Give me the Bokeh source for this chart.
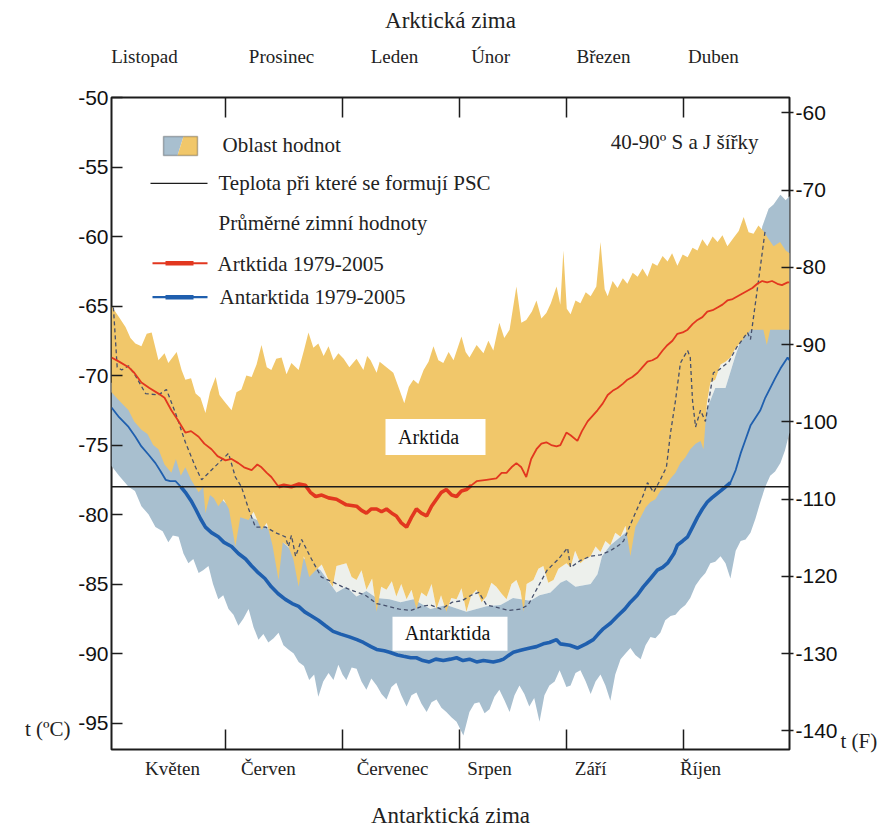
import math
from bokeh.plotting import figure
from bokeh.models import (Range1d, LinearAxis, FixedTicker, Span, Label,
                          BoxAnnotation, PolyAnnotation)
from bokeh.embed import file_html
from bokeh.resources import INLINE

# ---------------- data (day of winter season, temperature in °C) ----------------
PSC = -78.0
MONTH_BOUNDS = [30, 61, 92, 120, 151]
TOP_MONTHS = ["Listopad", "Prosinec", "Leden", "Únor", "Březen", "Duben"]
TOP_LABEL_DAYS = [8.7, 44.9, 74.7, 100.1, 129.9, 158.9]
BOTTOM_MONTHS = ["Květen", "Červen", "Červenec", "Srpen", "Září", "Říjen"]
BOTTOM_LABEL_DAYS = [16.1, 41.4, 74.2, 99.8, 126.5, 155.5]
C_TICKS = [-95, -90, -85, -80, -75, -70, -65, -60, -55, -50]
F_TICKS = [-140, -130, -120, -110, -100, -90, -80, -70, -60]
C_UNIT_AT = -95.4     # where the "t (ºC)" caption sits on the °C scale
F_UNIT_AT = -141.3    # where the "t (F)" caption sits on the °F scale

ARC_MAX = [(0,-65.0),(2,-65.8),(3.7,-66.5),(5,-67.3),(6.3,-67.7),(7.9,-67.9),(9.3,-67.0),(10.6,-66.9),(12.4,-68.9),(14,-68.4),(15,-69.1),(17.2,-68.3),(18.5,-69.6),(19.5,-70.3),(21,-70.2),(22.2,-71.3),(23.5,-71.6),(24.8,-72.7),(26,-71.2),(27.5,-70.1),(28.5,-71.4),(29.6,-71.8),(31.7,-72.5),(33,-71.2),(34.3,-71.0),(35.6,-70.0),(37,-70.1),(38.3,-69.2),(39.6,-67.8),(41,-69.4),(42.2,-69.6),(43.5,-68.8),(44.9,-68.7),(46.2,-69.9),(47.5,-69.1),(49.4,-69.6),(50.8,-68.2),(52,-66.9),(53.3,-68.0),(54.6,-67.7),(56,-68.6),(57.3,-67.9),(58.6,-68.9),(59.9,-68.4),(61.3,-68.8),(62.8,-69.4),(64.7,-68.8),(66.5,-69.6),(67.5,-68.6),(68.4,-68.9),(70,-69.8),(70.8,-69.0),(72.6,-69.4),(74.4,-69.8),(76,-71.0),(77.3,-72.0),(78.5,-70.8),(79.7,-70.3),(81,-70.6),(82.4,-69.6),(83.7,-69.0),(85,-67.9),(86.3,-68.9),(87.6,-69.1),(89,-68.3),(90.3,-68.9),(92.4,-67.2),(93.5,-68.3),(94.5,-68.7),(96.4,-67.8),(98.2,-68.4),(99.5,-67.5),(100.8,-68.2),(102.4,-66.2),(103.7,-67.3),(105.1,-66.7),(106.9,-63.6),(108.2,-66.2),(109.5,-66.0),(111,-65.4),(112.2,-64.6),(113.5,-65.9),(114.8,-65.5),(116,-64.8),(117.5,-63.6),(118.5,-64.9),(119.3,-61.0),(120.2,-65.2),(121.2,-65.6),(122.5,-64.6),(123.8,-64.8),(125.2,-64.0),(126.5,-64.3),(128,-63.6),(129.1,-60.4),(130.2,-63.8),(131,-64.3),(132.3,-63.2),(133.6,-63.7),(135,-63.0),(136.2,-63.4),(137.6,-62.6),(138.9,-62.9),(140.2,-62.3),(141.5,-62.9),(142.8,-61.9),(144.1,-62.1),(145.5,-61.4),(146.8,-61.8),(148,-61.2),(149.4,-62.1),(150.8,-61.3),(152.1,-61.5),(153.4,-60.8),(154.7,-61.0),(156,-60.2),(157.3,-60.7),(158.7,-60.0),(160,-60.4),(161.3,-59.9),(162.6,-60.7),(164.2,-60.1),(165.6,-59.6),(166.9,-58.6),(168.2,-59.7),(169.5,-59.8),(170.8,-59.2),(172.1,-59.6),(173.5,-60.2),(174.8,-60.7),(176.5,-60.4),(178,-61.0),(179,-61.2)]

ARC_MIN = [(0,-71.2),(2,-71.8),(4.5,-72.5),(6,-73.3),(7.9,-73.9),(9.5,-74.2),(11,-75.0),(12.4,-75.3),(14,-76.4),(15.8,-77.0),(17,-76.0),(18.3,-77.2),(19.5,-76.6),(21,-77.5),(23,-78.4),(24.2,-78.0),(24.8,-79.9),(26,-78.6),(27,-78.8),(28.2,-79.4),(29.6,-78.9),(31,-79.6),(32.7,-82.3),(34,-80.2),(36.2,-80.4),(37.5,-79.8),(39.6,-81.1),(41,-80.6),(42.5,-82.2),(44.1,-84.7),(45.2,-82.0),(46.7,-82.3),(48,-83.2),(49.4,-85.2),(50.8,-83.0),(52.2,-84.5),(53.9,-84.0),(55.5,-83.6),(57.3,-84.7),(58.4,-85.2),(59.4,-83.7),(62,-83.5),(63.4,-84.5),(64.7,-84.7),(66,-84.0),(67.3,-85.4),(68.8,-84.6),(70,-87.0),(71.2,-85.2),(72.6,-85.4),(74,-84.8),(75.2,-85.9),(76.5,-85.0),(77.9,-86.1),(79.2,-85.4),(80.5,-86.8),(81.8,-85.6),(83.2,-85.9),(84.5,-85.0),(85.8,-86.8),(87,-85.8),(88.4,-87.0),(89.7,-86.0),(91.1,-86.1),(92.4,-85.3),(93.7,-87.0),(95,-85.8),(96.4,-85.4),(97.7,-86.3),(99,-85.9),(100.3,-84.9),(101.6,-85.2),(103,-85.7),(104.3,-86.1),(105.6,-85.0),(106.9,-84.7),(108,-85.5),(108.8,-87.0),(109.6,-85.0),(111.4,-84.7),(112.7,-83.9),(114,-83.7),(115.3,-84.9),(116.7,-84.7),(118,-83.9),(120.1,-83.5),(121.2,-83.8),(122.4,-82.6),(123.8,-83.5),(125,-83.2),(126.5,-83.0),(127.8,-82.3),(129.1,-82.7),(130.4,-81.9),(131.7,-82.2),(133,-81.3),(134.4,-81.6),(135.7,-80.8),(137,-83.0),(138.3,-80.9),(139.7,-80.2),(141,-79.5),(142.3,-79.1),(143.6,-78.9),(144.9,-78.3),(146.2,-78.0),(147.6,-77.4),(148.9,-77.0),(150.2,-76.3),(151.5,-75.9),(152.8,-75.3),(154.2,-74.9),(155.5,-74.7),(156.3,-75.3),(157.2,-72.0),(158.1,-70.5),(159.4,-70.3),(160.8,-69.2),(162.1,-69.0),(163.4,-68.7),(164.8,-68.0),(166.1,-67.6),(167.4,-67.2),(168.7,-66.7),(170,-66.7),(172.1,-66.7),(173,-67.8),(173.9,-66.7),(176.6,-66.7),(179,-66.7)]

ANT_MAX = [(0,-70.5),(7.7,-73.0),(15.6,-75.5),(23.5,-77.5),(31.4,-79.5),(39.3,-80.5),(47.3,-82.5),(55.2,-84.0),(59.4,-85.6),(62,-85.2),(64.7,-85.9),(67.3,-85.5),(70,-86.0),(73.4,-86.1),(76.3,-86.3),(79.7,-86.1),(84.2,-86.8),(88.4,-86.5),(93.7,-87.0),(99,-86.6),(102.7,-86.5),(106,-86.0),(110.6,-86.2),(113,-85.8),(115.9,-85.6),(118.5,-84.9),(120.1,-84.7),(122.5,-85.2),(126.5,-85.0),(128.3,-84.3),(129.5,-83.0),(131.7,-82.2),(135.7,-81.3),(139.7,-79.9),(143.6,-78.0),(147.6,-76.6),(150.2,-75.8),(154.2,-74.1),(156.8,-72.7),(159.4,-70.9),(162.1,-70.9),(164.8,-68.5),(167.4,-66.5),(170,-63.5),(171.8,-59.3),(173.5,-58.0),(174.8,-57.7),(176.6,-57.0),(178,-57.4),(179,-57.1)]

ANT_MIN = [(0,-76.5),(2,-77.2),(4.5,-78.0),(6.2,-78.3),(7.9,-79.4),(9.8,-80.0),(11.6,-80.9),(13.5,-81.2),(15,-82.0),(16.2,-81.5),(17.7,-81.6),(19,-82.8),(20.3,-83.5),(21.6,-83.2),(23,-84.2),(24.2,-84.0),(25.6,-83.7),(26.8,-85.0),(28.2,-86.1),(29.5,-85.8),(30.9,-86.8),(32.2,-87.2),(33.5,-88.0),(34.8,-87.5),(36.2,-86.8),(37.5,-88.1),(38.8,-89.0),(40.1,-88.6),(41.4,-89.2),(42.8,-88.9),(44.1,-88.5),(45.4,-89.4),(46.7,-89.7),(48.1,-90.0),(49.4,-90.6),(50.8,-90.9),(52.2,-91.9),(53.5,-91.5),(54.6,-93.1),(55.9,-92.0),(57.3,-91.4),(58.6,-91.9),(59.9,-90.8),(61,-91.5),(62,-91.9),(63.4,-91.0),(64.7,-91.1),(66,-92.0),(67.3,-92.6),(68.6,-91.8),(70,-92.3),(71.3,-92.9),(72.6,-93.3),(73.9,-92.4),(75.2,-92.1),(76.5,-93.0),(77.9,-93.8),(79.2,-93.0),(80.5,-92.8),(81.8,-93.6),(83.2,-94.2),(84.5,-93.5),(85.8,-93.3),(87.1,-93.9),(88.4,-94.2),(89.8,-94.6),(91.1,-94.9),(92.9,-95.9),(94.5,-94.2),(95.8,-93.6),(97.1,-93.5),(98.5,-94.3),(99.8,-94.0),(101.1,-93.1),(102.4,-92.6),(103.8,-93.4),(105.1,-94.2),(106.4,-93.0),(107.7,-92.3),(109,-92.9),(110.3,-93.8),(111.6,-93.2),(113,-94.9),(114.3,-93.0),(115.6,-92.3),(117,-92.0),(118.3,-91.2),(119.2,-91.8),(120.1,-92.4),(121.2,-92.3),(122.5,-91.4),(123.8,-91.2),(125.2,-92.0),(126.5,-92.9),(127.8,-92.0),(129.1,-91.5),(130.4,-92.3),(131.7,-93.4),(133,-91.5),(134.4,-90.4),(135.7,-90.0),(137,-89.6),(138.3,-90.1),(139.7,-90.4),(141,-89.4),(142.3,-88.8),(143.6,-88.9),(144.9,-88.5),(146.2,-87.6),(147.6,-87.3),(148.9,-87.2),(150.2,-86.8),(151.5,-86.5),(152.8,-86.0),(154.2,-85.1),(155.5,-84.6),(156.8,-84.2),(158.1,-83.5),(159.4,-83.4),(160.8,-83.0),(162.1,-83.5),(163.4,-84.6),(164.8,-82.6),(166.1,-81.9),(167.4,-81.8),(168.7,-81.3),(170,-80.3),(171.3,-79.1),(172.6,-78.0),(173.9,-77.2),(175.2,-76.9),(176.6,-76.3),(177.8,-75.4),(179,-74.1)]

ARC_MEAN = [(0,-68.7),(2,-69.0),(4.5,-69.4),(6,-69.8),(7.9,-70.5),(10,-70.9),(12.4,-71.3),(14,-71.6),(15.8,-72.5),(17.5,-73.2),(19.5,-74.1),(21,-74.0),(23,-74.4),(24.5,-74.9),(26.4,-75.3),(28,-75.8),(30.1,-76.1),(31.7,-76.0),(33.5,-76.3),(35,-76.6),(37,-76.8),(38.5,-76.4),(39.6,-76.6),(41,-77.0),(42.2,-77.3),(44.1,-78.0),(45.5,-77.9),(47.5,-78.0),(49.5,-77.8),(51.2,-77.9),(52.5,-78.4),(53.9,-78.7),(55.5,-78.6),(57.3,-78.8),(59.4,-78.9),(62,-79.3),(64.7,-79.4),(66,-79.7),(67.3,-79.9),(68.6,-79.6),(70,-79.6),(71.3,-79.8),(72.6,-79.6),(74,-79.9),(75.2,-80.1),(76.5,-80.6),(77.9,-80.9),(79.2,-80.2),(80.5,-79.6),(81.8,-79.9),(83.2,-80.1),(84.5,-79.4),(85.8,-78.9),(87.1,-78.4),(88.4,-78.2),(89.8,-78.6),(91.1,-78.7),(92.4,-78.3),(93.7,-78.2),(95,-77.9),(96.4,-77.6),(99,-77.5),(101.6,-77.4),(103,-77.0),(104.3,-77.0),(105.6,-76.6),(106.9,-76.3),(108.2,-76.6),(109.5,-77.3),(110.8,-76.0),(112.2,-75.3),(113.5,-74.9),(114.8,-74.8),(116.1,-75.0),(117.5,-75.1),(118.5,-75.0),(120.1,-74.1),(121.2,-74.3),(123,-74.7),(124.2,-74.0),(125.7,-73.3),(127,-72.9),(128.3,-72.5),(129.7,-72.0),(131,-71.4),(132.3,-71.1),(133.6,-70.9),(135,-70.6),(136.2,-70.3),(137.5,-70.1),(138.9,-69.8),(140.2,-69.4),(141.5,-69.0),(142.8,-68.9),(144.1,-68.7),(145.5,-68.2),(146.8,-67.8),(148.1,-67.5),(149.4,-67.0),(150.8,-66.9),(152.1,-66.7),(153.4,-66.3),(154.7,-66.0),(156,-65.8),(157.3,-65.4),(158.7,-65.3),(160,-65.1),(161.3,-64.9),(162.6,-64.6),(164,-64.5),(165.3,-64.3),(166.6,-64.1),(167.9,-63.9),(169.2,-63.7),(170.5,-63.4),(171.8,-63.2),(173.1,-63.3),(174.4,-63.2),(175.8,-63.4),(177,-63.5),(178.5,-63.3),(179,-63.3)]

ANT_MEAN = [(0,-72.3),(2,-73.0),(4.5,-73.7),(6.3,-74.4),(7.9,-75.1),(9.8,-75.7),(11.6,-76.3),(13,-76.9),(14.3,-77.5),(15.5,-77.6),(16.9,-77.6),(18.3,-78.0),(19.5,-78.4),(21,-79.0),(22.2,-79.6),(23.5,-80.3),(24.8,-80.9),(26.4,-81.3),(28.2,-81.6),(29.7,-82.0),(31.7,-82.3),(33.5,-82.8),(35.4,-83.2),(37,-83.7),(38.8,-84.2),(40.5,-84.6),(42.2,-85.2),(44,-85.7),(45.9,-86.1),(47.7,-86.4),(49.4,-86.6),(51,-87.0),(52.8,-87.3),(54.6,-87.6),(56.5,-88.0),(58.5,-88.4),(60.5,-88.6),(62.8,-88.8),(64.8,-89.0),(66.5,-89.2),(68.5,-89.5),(70,-89.7),(72,-89.8),(73.4,-89.9),(75.5,-90.1),(77.1,-90.2),(79,-90.3),(80.5,-90.3),(82.2,-90.5),(83.9,-90.6),(85.6,-90.4),(87.6,-90.5),(89.5,-90.4),(91.1,-90.3),(92.8,-90.5),(94.5,-90.4),(96.4,-90.6),(98.2,-90.5),(100.8,-90.6),(102.5,-90.5),(103.5,-90.4),(105,-90.1),(106.1,-89.9),(107.5,-89.8),(108.8,-89.7),(110.5,-89.6),(112.2,-89.5),(114,-89.3),(115.6,-89.2),(117.5,-89.0),(118.5,-89.3),(121,-89.4),(123,-89.6),(125.3,-89.3),(127.2,-89.0),(128.5,-88.6),(129.9,-88.2),(131.8,-87.8),(133.6,-87.3),(135.5,-86.8),(137,-86.3),(138.8,-85.8),(140.4,-85.2),(142.3,-84.6),(144.1,-84.0),(145.5,-83.8),(146.8,-83.5),(148.5,-82.8),(149.4,-82.2),(150.8,-81.9),(152.1,-81.6),(153.4,-80.9),(154.7,-80.2),(156,-79.6),(157.3,-79.1),(158.5,-78.8),(160.8,-78.3),(162.1,-78.0),(163.4,-77.7),(164.8,-76.8),(166.1,-75.6),(167.4,-74.6),(168.7,-73.6),(171.3,-72.5),(172.6,-71.6),(173.9,-70.9),(175.2,-70.2),(176.6,-69.5),(178.5,-68.7),(179,-68.9)]

DASHED = [(0.5,-65.1),(1.5,-69.4),(2.7,-69.6),(4.5,-69.3),(6.3,-70.0),(9,-71.3),(12.4,-71.4),(14.5,-71.0),(16.9,-72.7),(19.5,-74.8),(22.2,-76.6),(23.8,-77.5),(26.4,-76.8),(29,-76.1),(30.9,-75.6),(32.7,-77.3),(34.3,-78.0),(36.2,-79.6),(38,-80.9),(40.7,-80.9),(43.3,-81.3),(45.9,-81.6),(46.7,-82.3),(47.5,-81.5),(48.6,-83.0),(50.2,-81.8),(52.8,-83.2),(55.4,-84.5),(58,-84.8),(61,-85.2),(64,-85.5),(67,-85.8),(70,-86.4),(73,-86.6),(76,-86.8),(79,-86.9),(82,-86.6),(84.2,-86.5),(87,-86.8),(90,-86.3),(92.5,-86.2),(95,-85.8),(97,-85.6),(99,-86.5),(102,-86.7),(105,-86.9),(108,-86.8),(110,-86.5),(112,-85.5),(115,-84.0),(118,-83.2),(120.4,-82.4),(121.2,-83.8),(123.8,-83.3),(126.5,-83.0),(129.1,-82.9),(131.7,-82.6),(134,-82.2),(135.2,-81.9),(137.8,-80.2),(140.4,-78.6),(141.5,-77.7),(143.1,-78.4),(144.9,-77.5),(146.5,-76.6),(147.6,-74.1),(148.9,-71.8),(150.2,-69.1),(151.0,-68.7),(152.1,-68.2),(152.8,-68.7),(153.4,-71.8),(154.2,-73.7),(155.5,-72.5),(156.8,-73.3),(158.9,-69.8),(160.3,-69.6),(163,-69.0),(165,-68.0),(167.9,-66.9),(168.7,-67.4),(169.5,-65.8),(171.3,-62.2),(172.6,-59.5)]

# ---------------- figure ----------------
X_START, X_END = 0, 179
Y_TOP, Y_BOT = -50.0, -96.9
FRAME_W, FRAME_H = 678, 653
FRAME_LEFT, FRAME_TOP = 111, 97   # pixels of the frame's top-left corner


def dx(px):
    return X_START + (px - FRAME_LEFT) * (X_END - X_START) / FRAME_W


def ty(py):
    return Y_TOP - (py - FRAME_TOP) * (Y_TOP - Y_BOT) / FRAME_H


YELLOW = "#f1c76a"
BLUE_BAND = "#a8bfcf"
PALE = "#edf0ec"
RED = "#e2371f"
BLUE = "#1f5fae"
INK = "#1c1c1c"
SERIF = "Liberation Serif"

p = figure(width=887, height=830,
           x_range=Range1d(X_START, X_END), y_range=Range1d(Y_BOT, Y_TOP),
           output_backend="svg", toolbar_location=None,
           x_axis_location=None, y_axis_location=None,
           min_border_left=FRAME_LEFT, min_border_right=887 - FRAME_LEFT - FRAME_W,
           min_border_top=FRAME_TOP, min_border_bottom=830 - FRAME_TOP - FRAME_H)
p.xgrid.visible = False
p.ygrid.visible = False
p.background_fill_color = "white"
p.border_fill_color = "white"
p.outline_line_color = INK
p.outline_line_width = 2

p.extra_y_ranges = {"F": Range1d(Y_BOT * 1.8 + 32, Y_TOP * 1.8 + 32)}

num_style = dict(major_label_text_font="Liberation Sans", major_label_text_font_size="21px",
                 major_label_text_color="#111", axis_line_color=None,
                 major_tick_line_color=INK, major_tick_line_width=1.5,
                 minor_tick_line_color=None)
left = LinearAxis(ticker=FixedTicker(ticks=C_TICKS),
                  major_label_overrides={t: str(t) for t in C_TICKS},
                  major_tick_in=11, major_tick_out=0, major_label_standoff=3, **num_style)
p.add_layout(left, "left")
right = LinearAxis(y_range_name="F", ticker=FixedTicker(ticks=F_TICKS),
                   major_label_overrides={t: str(t) for t in F_TICKS},
                   major_tick_in=8, major_tick_out=4, major_label_standoff=2, **num_style)
p.add_layout(right, "right")

unit_style = dict(major_label_text_font=SERIF, major_label_text_font_size="21px",
                  major_label_text_color="#222", axis_line_color=None,
                  major_tick_line_color=None, minor_tick_line_color=None,
                  major_tick_in=0, major_tick_out=0)
left_unit = LinearAxis(ticker=FixedTicker(ticks=[C_UNIT_AT]),
                       major_label_overrides={C_UNIT_AT: "t (ºC)"},
                       major_label_standoff=5, **unit_style)
p.add_layout(left_unit, "left")
right_unit = LinearAxis(y_range_name="F", ticker=FixedTicker(ticks=[F_UNIT_AT]),
                        major_label_overrides={F_UNIT_AT: "t (F)"},
                        major_label_standoff=0, **unit_style)
p.add_layout(right_unit, "right")

month_style = dict(major_label_text_font=SERIF, major_label_text_font_size="19px",
                   major_label_text_color="#222", axis_line_color=None,
                   major_tick_line_color=None, major_tick_in=0, major_tick_out=0,
                   minor_tick_line_color=INK, minor_tick_line_width=1.5,
                   minor_tick_in=20, minor_tick_out=0,
                   axis_label_text_font=SERIF, axis_label_text_font_size="23px",
                   axis_label_text_font_style="normal", axis_label_text_color="#222")
top = LinearAxis(ticker=FixedTicker(ticks=TOP_LABEL_DAYS, minor_ticks=MONTH_BOUNDS),
                 major_label_overrides=dict(zip(TOP_LABEL_DAYS, TOP_MONTHS)),
                 axis_label="Arktická zima", major_label_standoff=31,
                 axis_label_standoff=10, **month_style)
p.add_layout(top, "above")
bottom = LinearAxis(ticker=FixedTicker(ticks=BOTTOM_LABEL_DAYS, minor_ticks=MONTH_BOUNDS),
                    major_label_overrides=dict(zip(BOTTOM_LABEL_DAYS, BOTTOM_MONTHS)),
                    axis_label="Antarktická zima", major_label_standoff=8,
                    axis_label_standoff=21, **month_style)
p.add_layout(bottom, "below")


def split(pairs):
    return [a for a, _ in pairs], [b for _, b in pairs]


am_d, am_v = split(ARC_MAX)
an_d, an_v = split(ARC_MIN)
tm_d, tm_v = split(ANT_MAX)
tn_d, tn_v = split(ANT_MIN)
ar_d, ar_v = split(ARC_MEAN)
at_d, at_v = split(ANT_MEAN)
ds_d, ds_v = split(DASHED)

# gap between the two ranges (pale), Antarctic range (blue), Arctic range (yellow)
p.patch(tm_d + an_d[::-1], tm_v + an_v[::-1], fill_color=PALE, line_color=None)
p.patch(tm_d + tn_d[::-1], tm_v + tn_v[::-1], fill_color=BLUE_BAND, line_color=None)
p.patch(am_d + an_d[::-1], am_v + an_v[::-1], fill_color=YELLOW, line_color=None)

p.line(ds_d, ds_v, line_color="#46506c", line_width=1.3, line_dash="4 3")


def below_psc(vals):
    return [v if v <= PSC + 0.3 else math.nan for v in vals]


p.line(ar_d, ar_v, line_color=RED, line_width=1.8)
p.line(ar_d, below_psc(ar_v), line_color=RED, line_width=3.6)
p.line(at_d, at_v, line_color=BLUE, line_width=1.8)
p.line(at_d, below_psc(at_v), line_color=BLUE, line_width=3.6)

p.add_layout(Span(location=PSC, dimension="width", line_color=INK, line_width=1.5))

# region labels in white boxes
for (l, r, t, b), (cx, cy), txt in [((385, 485, 419, 455), (428, 437), "Arktida"),
                                     ((392, 507, 617, 651), (447, 633), "Antarktida")]:
    p.add_layout(BoxAnnotation(left=dx(l), right=dx(r), top=ty(t), bottom=ty(b),
                               fill_color="white", fill_alpha=1, line_color=None))
    p.add_layout(Label(x=dx(cx), y=ty(cy), text=txt, text_font=SERIF, text_font_size="20px",
                       text_color="#111", text_align="center", text_baseline="middle"))

# legend
p.add_layout(PolyAnnotation(xs=[dx(163), dx(183), dx(177), dx(163)],
                            ys=[ty(136), ty(136), ty(155), ty(155)],
                            fill_color=BLUE_BAND, fill_alpha=1, line_color=None))
p.add_layout(PolyAnnotation(xs=[dx(183), dx(197), dx(197), dx(177)],
                            ys=[ty(136), ty(136), ty(155), ty(155)],
                            fill_color=YELLOW, fill_alpha=1, line_color=None))
p.add_layout(BoxAnnotation(left=dx(163), right=dx(197), top=ty(136), bottom=ty(155),
                           fill_alpha=0, line_color=INK, line_width=1.5))


def hbar(x0, x1, yc, h, color):
    p.add_layout(BoxAnnotation(left=dx(x0), right=dx(x1), top=ty(yc - h / 2), bottom=ty(yc + h / 2),
                               fill_color=color, fill_alpha=1, line_color=None))


hbar(150, 207, 183, 1.4, INK)
hbar(152, 207, 263, 2.2, RED)
hbar(165, 193, 263, 4.4, RED)
hbar(152, 207, 297, 2.2, BLUE)
hbar(165, 193, 297, 4.4, BLUE)

legend_texts = [(222, 145, "Oblast hodnot"),
                (218, 183, "Teplota při které se formují PSC"),
                (218, 223, "Průměrné zimní hodnoty"),
                (217, 264, "Artktida 1979-2005"),
                (219, 297, "Antarktida 1979-2005")]
for x, y, txt in legend_texts:
    p.add_layout(Label(x=dx(x), y=ty(y), text=txt, text_font=SERIF, text_font_size="21px",
                       text_color="#222", text_align="left", text_baseline="middle"))
p.add_layout(Label(x=dx(758), y=ty(142), text="40-90º S a J šířky", text_font=SERIF,
                   text_font_size="21px", text_color="#222", text_align="right",
                   text_baseline="middle"))

open("out.html", "w").write(file_html(p, INLINE))
